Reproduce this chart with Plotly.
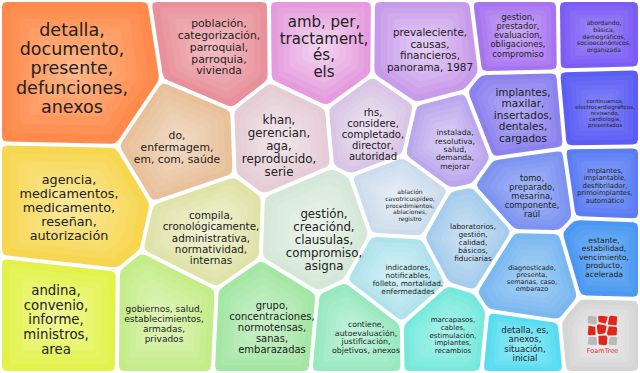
import math
import plotly.graph_objects as go

W, H = 640, 373
GAP = 4.0

# ---------------- data ----------------
label_lines = [
    ["detalla,", "documento,", "presente,", "defunciones,", "anexos"],
    ["población,", "categorización,", "parroquial,", "parroquia,", "vivienda"],
    ["amb, per,", "tractament,", "és,", "els"],
    ["prevaleciente,", "causas,", "financieros,", "panorama, 1987"],
    ["gestion,", "prestador,", "evaluacion,", "obligaciones,", "compromiso"],
    ["abordando,", "básica,", "demográficos,", "socioeconómicos,", "organizada"],
    ["khan,", "gerencian,", "aga,", "reproducido,", "serie"],
    ["do,", "enfermagem,", "em, com, saúde"],
    ["rhs,", "considere,", "completado,", "director,", "autoridad"],
    ["instalada,", "resolutiva,", "salud,", "demanda,", "mejorar"],
    ["implantes,", "maxilar,", "insertados,", "dentales,", "cargados"],
    ["continuamos,", "electrocardiográficos,", "revisando,", "cardiología,", "presentados"],
    ["agencia,", "medicamentos,", "medicamento,", "reseñan,", "autorización"],
    ["compila,", "cronológicamente,", "administrativa,", "normatividad,", "internas"],
    ["gestión,", "creaciónd,", "clausulas,", "compromiso,", "asigna"],
    ["ablación", "cavotricuspídeo,", "procedimientos,", "ablaciones,", "registro"],
    ["tomo,", "preparado,", "mesarina,", "componente,", "raúl"],
    ["implantes,", "implantable,", "desfibrilador,", "primoimplantes,", "automático"],
    ["laboratorios,", "gestión,", "calidad,", "básicos,", "fiduciarias"],
    ["estante,", "estabilidad,", "vencimiento,", "producto,", "acelerada"],
    ["diagnosticado,", "presenta,", "semanas, caso,", "embarazo"],
    ["indicadores,", "notificables,", "folleto, mortalidad,", "enfermedades"],
    ["andina,", "convenio,", "informe,", "ministros,", "area"],
    ["gobiernos, salud,", "establecimientos,", "armadas,", "privados"],
    ["grupo,", "concentraciones,", "normotensas,", "sanas,", "embarazadas"],
    ["contiene,", "autoevaluación,", "justificación,", "objetivos, anexos"],
    ["marcapasos,", "cables,", "estimulación,", "implantes,", "recambios"],
    ["detalla, es,", "anexos,", "situación,", "inicial"],
    [],  # FoamTree logo cell
]

# relative cell sizes (areas)
values = [20800, 10400, 9300, 9300, 5800, 5500, 8200, 9400, 6000, 5700,
          6700, 5900, 16000, 9300, 9500, 5300, 6000, 5000, 5700, 5400,
          6500, 5500, 12500, 10000, 9500, 6500, 6000, 4300, 5500]

# ---------------- layout / style ----------------
# generator points of the power diagram
sites = [(72, 70), (215, 48), (325, 47), (437, 48), (524, 37), (603, 36),
         (283, 136), (176, 140), (383, 127), (462, 145), (526, 120), (605, 113),
         (69, 205), (209, 236), (327, 240), (414, 210), (537, 198), (606, 188),
         (481, 248), (603, 262), (535, 282), (410, 286), (56, 322), (165, 323),
         (273, 328), (371, 337), (454, 336), (526, 343), (601, 336)]

# centres of the text blocks
label_pos = [(72, 70), (219, 48), (324, 48), (430, 51), (518, 36), (604, 37),
             (279, 147), (177, 148), (373, 135), (455, 150), (523, 116), (605, 114),
             (69, 209), (211, 239), (324, 241), (410, 206), (532, 197), (605, 186),
             (473, 243), (604, 258), (532, 279), (408, 280), (56, 321), (164, 325),
             (272, 328), (366, 338), (453, 336), (525, 345), (602, 335)]

font_sizes = [17.5, 10.8, 15, 10.4, 8.4, 6.1, 11.8, 10.8, 10, 7.6,
              10.5, 5.5, 12.8, 10.4, 11.8, 6, 8.3, 6.8, 7.3, 7.7,
              6.5, 7.4, 13.3, 9, 10, 7.8, 7, 8.6, 7]

edge_colors = ["#FF8A4C", "#E8919A", "#E59BDD", "#C89BEA", "#A774F0", "#7B5CF5",
               "#E5CCD5", "#E8C09A", "#D9C5E5", "#BBA8EC", "#8C82EE", "#5B5EF5",
               "#F7D650", "#DFE3A8", "#D5E8D8", "#CCDCEC", "#7C93F0", "#5C7CF4",
               "#A5CCEC", "#4A98F2", "#7BB8F0", "#B0E2EC", "#E2F24A", "#C5EC8A",
               "#A5E6A5", "#98E8C0", "#78E8DC", "#58DCF2", "#D5D5D5"]
center_colors = ["#FFB584", "#F2BCC2", "#F3D2EF", "#E3CCF6", "#C9AAF6", "#9C8AF7",
                 "#F1E5EA", "#F2DAC2", "#ECE2F3", "#D9CFF6", "#B2ABF4", "#8284F7",
                 "#F9E99A", "#EFF1D2", "#EAF3EC", "#E6EFF7", "#A3B6F6", "#83A0F7",
                 "#CBE2F5", "#78B6F6", "#A3D0F6", "#D2F1F6", "#EFF994", "#DEF5BA",
                 "#CAF1CA", "#C2F3DB", "#AAF3EB", "#93EAF7", "#EEEEEE"]

TEXT_COLOR = "#222222"
FONT = "DejaVu Sans"


# ---------------- geometry helpers ----------------
def clip(poly, a, b, c):
    out = []
    n = len(poly)
    for i in range(n):
        P = poly[i]
        Q = poly[(i + 1) % n]
        fp = a * P[0] + b * P[1] - c
        fq = a * Q[0] + b * Q[1] - c
        if fp <= 0:
            out.append(P)
        if (fp <= 0) != (fq <= 0):
            t = fp / (fp - fq)
            out.append((P[0] + t * (Q[0] - P[0]), P[1] + t * (Q[1] - P[1])))
    return out


def power_cells(pts, wts, box, inset=0.0):
    x0, y0, x1, y1 = box
    cells = []
    for i, (xi, yi) in enumerate(pts):
        poly = [(x0 + inset, y0 + inset), (x1 - inset, y0 + inset),
                (x1 - inset, y1 - inset), (x0 + inset, y1 - inset)]
        for j, (xj, yj) in enumerate(pts):
            if i == j:
                continue
            a = 2 * (xj - xi)
            b = 2 * (yj - yi)
            c = (xj * xj + yj * yj) - (xi * xi + yi * yi) - wts[j] + wts[i]
            if inset:
                c -= inset * math.hypot(a, b)
            poly = clip(poly, a, b, c)
            if len(poly) < 3:
                poly = []
                break
        cells.append(poly)
    return cells


def area(poly):
    s = 0.0
    for i in range(len(poly)):
        x0, y0 = poly[i]
        x1, y1 = poly[(i + 1) % len(poly)]
        s += x0 * y1 - x1 * y0
    return abs(s) / 2


def centroid(poly):
    a = 0.0
    cx = cy = 0.0
    for i in range(len(poly)):
        x0, y0 = poly[i]
        x1, y1 = poly[(i + 1) % len(poly)]
        cr = x0 * y1 - x1 * y0
        a += cr
        cx += (x0 + x1) * cr
        cy += (y0 + y1) * cr
    if abs(a) < 1e-9:
        return poly[0]
    return cx / (3 * a), cy / (3 * a)


def rounded(poly, r=5.0, steps=5):
    out = []
    n = len(poly)
    for i in range(n):
        P0 = poly[i - 1]
        P = poly[i]
        P1 = poly[(i + 1) % n]
        d0 = math.hypot(P0[0] - P[0], P0[1] - P[1])
        d1 = math.hypot(P1[0] - P[0], P1[1] - P[1])
        if d0 < 1e-6 or d1 < 1e-6:
            continue
        rr = min(r, 0.45 * d0, 0.45 * d1)
        A = (P[0] + (P0[0] - P[0]) * rr / d0, P[1] + (P0[1] - P[1]) * rr / d0)
        B = (P[0] + (P1[0] - P[0]) * rr / d1, P[1] + (P1[1] - P[1]) * rr / d1)
        for k in range(steps + 1):
            t = k / steps
            x = (1 - t) ** 2 * A[0] + 2 * (1 - t) * t * P[0] + t * t * B[0]
            y = (1 - t) ** 2 * A[1] + 2 * (1 - t) * t * P[1] + t * t * B[1]
            out.append((x, y))
    return out


def mix(c1, c2, t):
    a = [int(c1[i:i + 2], 16) for i in (1, 3, 5)]
    b = [int(c2[i:i + 2], 16) for i in (1, 3, 5)]
    return "rgb(%d,%d,%d)" % tuple(round(a[k] + (b[k] - a[k]) * t) for k in range(3))


# ---------------- power-diagram (Voronoi treemap) fitting ----------------
n = len(values)
total = sum(values)
targets = [v / total * W * H for v in values]
weights = [0.0] * n
box = (0, 0, W, H)
for it in range(400):
    cells = power_cells(sites, weights, box)
    areas = [area(c) if c else 0.0 for c in cells]
    for i in range(n):
        weights[i] += 0.3 * (targets[i] - areas[i])

cells = power_cells(sites, weights, box, inset=GAP / 2)

fig = go.Figure()
LAYERS = 8
for i, poly in enumerate(cells):
    if not poly:
        continue
    rp = rounded(poly, 5)
    cx, cy = centroid(poly)
    for k in range(LAYERS):
        s = 1 - k / LAYERS
        t = (k / (LAYERS - 1)) ** 0.9
        pts = [(cx + (x - cx) * s, cy + (y - cy) * s) for x, y in rp]
        xs = [p[0] for p in pts] + [pts[0][0]]
        ys = [p[1] for p in pts] + [pts[0][1]]
        fig.add_trace(go.Scatter(x=xs, y=ys, mode="lines", fill="toself",
                                 fillcolor=mix(edge_colors[i], center_colors[i], t),
                                 line=dict(width=0), hoverinfo="skip",
                                 showlegend=False))

# labels
tx, ty, tt, ts = [], [], [], []
for i, lines in enumerate(label_lines):
    if not lines:
        continue
    sp = font_sizes[i] * 1.1
    m = len(lines)
    for k, line in enumerate(lines):
        tx.append(label_pos[i][0])
        ty.append(label_pos[i][1] + (k - (m - 1) / 2) * sp)
        tt.append(line)
        ts.append(font_sizes[i])
fig.add_trace(go.Scatter(x=tx, y=ty, text=tt, mode="text",
                         textposition="middle center",
                         textfont=dict(family=FONT, size=ts, color=TEXT_COLOR),
                         hoverinfo="skip", showlegend=False))

# FoamTree logo in the grey cell
logo_box = (587, 315, 618, 346)
logo_rel = [(0.18, 0.15), (0.5, 0.12), (0.85, 0.18), (0.15, 0.5), (0.45, 0.45),
            (0.82, 0.52), (0.18, 0.85), (0.5, 0.82), (0.85, 0.85)]
logo_cols = ["#B9B9B9", "#E0251B", "#E0251B", "#E0251B", "#E0251B",
             "#E0251B", "#B9B9B9", "#E0251B", "#B9B9B9"]
lx0, ly0, lx1, ly1 = logo_box
lpts = [(lx0 + (lx1 - lx0) * u, ly0 + (ly1 - ly0) * v) for u, v in logo_rel]
lcells = power_cells(lpts, [0.0] * len(lpts), logo_box, inset=0.8)
for poly, col in zip(lcells, logo_cols):
    if not poly:
        continue
    rp = rounded(poly, 1.5, 3)
    fig.add_trace(go.Scatter(x=[p[0] for p in rp] + [rp[0][0]],
                             y=[p[1] for p in rp] + [rp[0][1]],
                             mode="lines", fill="toself", fillcolor=col,
                             line=dict(width=0), hoverinfo="skip", showlegend=False))
fig.add_trace(go.Scatter(x=[(lx0 + lx1) / 2], y=[ly1 + 5.5], text=["FoamTree"],
                         mode="text", textfont=dict(family=FONT, size=6.5, color="#E0301E"),
                         hoverinfo="skip", showlegend=False))

fig.update_layout(
    width=W, height=H, margin=dict(l=0, r=0, t=0, b=0),
    paper_bgcolor="white", plot_bgcolor="white", showlegend=False,
    hovermode=False,
    xaxis=dict(range=[0, W], visible=False, fixedrange=True),
    yaxis=dict(range=[H, 0], visible=False, fixedrange=True),
)
fig.write_html("out.html", config={"displayModeBar": False},
               post_script="document.body.style.margin='0px';"
                           "document.body.style.overflow='hidden';")
